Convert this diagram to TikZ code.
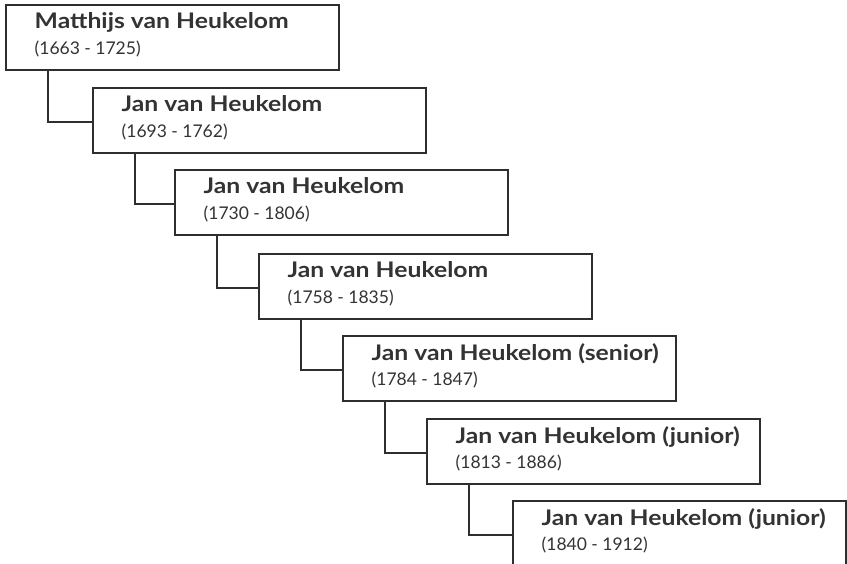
\documentclass[tikz,border=0pt]{standalone}
\usepackage{fontspec}
\setmainfont{Lato}[BoldFeatures={FakeStretch=1.15}]
\definecolor{linec}{HTML}{2E2E2E}
\definecolor{textc}{HTML}{333333}
\tikzset{
  box/.style={draw=linec, line width=2pt, anchor=north west, fill=white,
    minimum width=333pt, minimum height=65pt, inner sep=0pt},
  nametext/.style={anchor=base west, inner sep=0pt, text=textc,
    font=\bfseries\fontsize{21.5}{25}\selectfont},
  datetext/.style={anchor=base west, inner sep=0pt, text=textc,
    font=\fontsize{17.5}{25}\selectfont},
  link/.style={draw=linec, line width=2pt}
}
\begin{document}
\begin{tikzpicture}[x=1pt,y=-1pt]
\useasboundingbox (0,0) rectangle (847,564);
\foreach \i/\x/\y/\nm/\dt in {
  1/5/4/{Matthijs van Heukelom}/{(1663 - 1725)},
  2/92/87/{Jan van Heukelom}/{(1693 - 1762)},
  3/174/169/{Jan van Heukelom}/{(1730 - 1806)},
  4/258/253/{Jan van Heukelom}/{(1758 - 1835)},
  5/342/335/{Jan van Heukelom (senior)}/{(1784 - 1847)},
  6/426/418/{Jan van Heukelom (junior)}/{(1813 - 1886)},
  7/512/500/{Jan van Heukelom (junior)}/{(1840 - 1912)}}
{
  \node[box] (b\i) at (\x,\y) {};
  \node[nametext] (n\i) at ([xshift=29.5pt,yshift=-25pt]b\i.north west) {\nm};
  \node[datetext] (d\i) at ([xshift=29.5pt,yshift=-50.5pt]b\i.north west) {\dt};
}
\foreach \a/\b in {b1/b2,b2/b3,b3/b4,b4/b5,b5/b6,b6/b7}
  \draw[link] ([xshift=42.5pt]\a.south west) |- ([yshift=-1.5pt]\b.west);
\end{tikzpicture}
\end{document}
